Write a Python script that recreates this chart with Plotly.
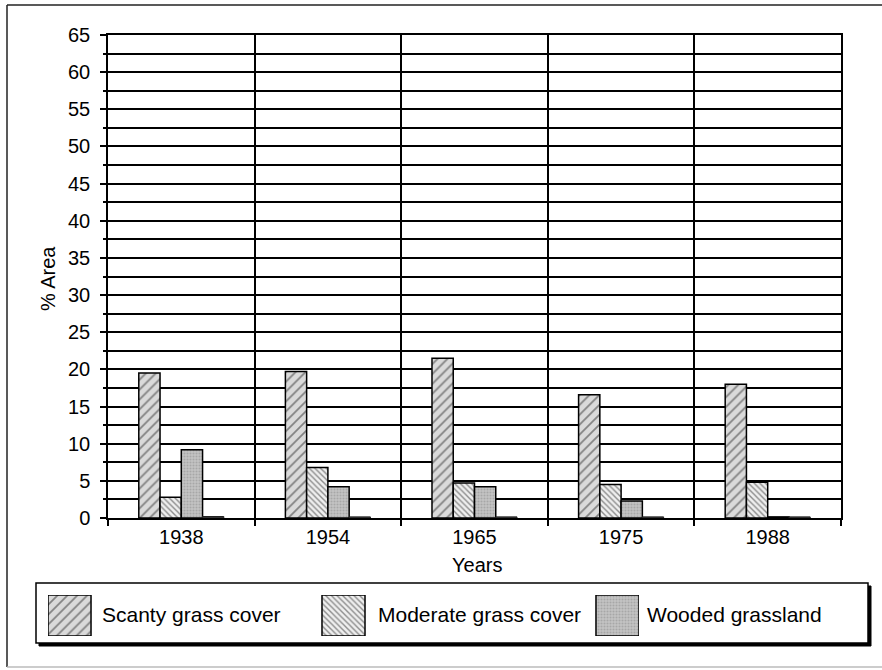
import plotly.graph_objects as go

# ---------------- data ----------------
years = ["1938", "1954", "1965", "1975", "1988"]
scanty = [19.5, 19.7, 21.5, 16.6, 18.0]
moderate = [2.8, 6.8, 4.7, 4.5, 4.8]
wooded = [9.2, 4.2, 4.2, 2.3, 0.15]
other = [0.2, 0.15, 0.15, 0.15, 0.15]
series_names = ["Scanty grass cover", "Moderate grass cover", "Wooded grassland"]
y_ticks = list(range(0, 70, 5))

# ---------------- geometry helpers (pixels -> paper) ----------------
W, H = 882, 670
def px(x):
    return x / W
def py(y):
    return 1 - y / H

FONT = "Liberation Sans, Arial, sans-serif"

styles = [
    dict(shape="/", fgcolor="#2a2a2a", bgcolor="#dadada", size=7, solidity=0.25),
    dict(shape="\\", fgcolor="#2a2a2a", bgcolor="#efefef", size=4, solidity=0.35),
    dict(shape=".", fgcolor="#8a8a8a", bgcolor="#c4c4c4", size=3, solidity=0.4),
]

fig = go.Figure()
for name, vals, st in zip(series_names, [scanty, moderate, wooded], styles):
    fig.add_trace(go.Bar(
        x=years, y=vals, name=name, showlegend=False,
        marker=dict(pattern=st, line=dict(color="black", width=1.5)),
        xaxis="x", yaxis="y",
    ))
fig.add_trace(go.Bar(
    x=years, y=other, name="Other", showlegend=False,
    marker=dict(color="#444444", line=dict(color="#222222", width=1)),
    xaxis="x", yaxis="y",
))

# legend swatches drawn as bars in a small auxiliary subplot
for i, (name, st) in enumerate(zip(series_names, styles)):
    fig.add_trace(go.Bar(
        x=[i], y=[1], width=[0.157], showlegend=False, hoverinfo="skip",
        marker=dict(pattern=st, line=dict(color="black", width=1.5)),
        xaxis="x2", yaxis="y2",
    ))

shapes = []
# outer frame
shapes.append(dict(type="line", xref="paper", yref="paper", x0=px(7), x1=px(7), y0=py(5), y1=py(667),
                   line=dict(color="#222", width=1.5), layer="below"))
shapes.append(dict(type="line", xref="paper", yref="paper", x0=px(7), x1=1, y0=py(5), y1=py(5),
                   line=dict(color="#222", width=1.5), layer="below"))
shapes.append(dict(type="line", xref="paper", yref="paper", x0=px(7), x1=1, y0=py(667), y1=py(667),
                   line=dict(color="#bbbbbb", width=1.5), layer="below"))
# legend box with shadow
shapes.append(dict(type="rect", xref="paper", yref="paper", x0=px(39), x1=px(871), y0=py(646), y1=py(586),
                   fillcolor="black", line=dict(color="black", width=1), layer="below"))
shapes.append(dict(type="rect", xref="paper", yref="paper", x0=px(36), x1=px(868), y0=py(643), y1=py(583),
                   fillcolor="white", line=dict(color="black", width=1.5), layer="below"))

annotations = [
    dict(text="% Area", x=px(48), y=py(279), xref="paper", yref="paper", textangle=-90,
         xanchor="center", yanchor="middle",
         showarrow=False, font=dict(size=20, color="black", family=FONT)),
    dict(text="Years", x=px(477), y=py(565), xref="paper", yref="paper",
         xanchor="center", yanchor="middle",
         showarrow=False, font=dict(size=20, color="black", family=FONT)),
]
for name, x0 in zip(series_names, [100, 376, 645]):
    annotations.append(dict(text=name, x=px(x0), y=py(614), xref="paper", yref="paper",
                            xanchor="left", yanchor="middle", showarrow=False,
                            font=dict(size=21, color="black", family=FONT)))

fig.update_layout(
    width=W, height=H, autosize=False,
    margin=dict(l=0, r=0, t=0, b=0, pad=0),
    paper_bgcolor="white", plot_bgcolor="rgba(0,0,0,0)",
    barmode="group", bargap=0.42, bargroupgap=0,
    font=dict(family=FONT, size=20, color="black"),
    showlegend=False,
    xaxis=dict(domain=[px(108), px(841)], type="category", tickson="boundaries",
               ticks="outside", ticklen=6, tickwidth=1.5, tickcolor="black",
               showgrid=True, gridcolor="black", gridwidth=1.5, automargin=False,
               showline=True, linecolor="black", linewidth=1.5, mirror=True,
               tickfont=dict(size=20, family=FONT, color="black"), anchor="y"),
    yaxis=dict(domain=[py(518), py(35)], range=[0, 65], tickvals=y_ticks,
               ticks="outside", ticklen=6, tickwidth=1.5, tickcolor="black",
               ticklabelstandoff=6,
               showgrid=True, gridcolor="black", gridwidth=1.5, automargin=False,
               minor=dict(dtick=2.5, showgrid=True, gridcolor="black", gridwidth=1.5,
                          ticks="outside", ticklen=3, tickcolor="black"),
               showline=True, linecolor="black", linewidth=1.5, mirror=True,
               zeroline=False,
               tickfont=dict(size=20, family=FONT, color="black"), anchor="x"),
    xaxis2=dict(domain=[px(48), px(639)], range=[-0.0785, 2.0785], visible=False,
                showgrid=False, zeroline=False, anchor="y2", fixedrange=True, automargin=False),
    yaxis2=dict(domain=[py(636), py(595)], range=[0, 1], visible=False,
                showgrid=False, zeroline=False, anchor="x2", fixedrange=True, automargin=False),
    shapes=shapes, annotations=annotations,
)

fig.write_html(
    "out.html",
    config={"displayModeBar": False, "responsive": False},
    post_script="document.body.style.margin='0';document.body.style.overflow='hidden';",
)
